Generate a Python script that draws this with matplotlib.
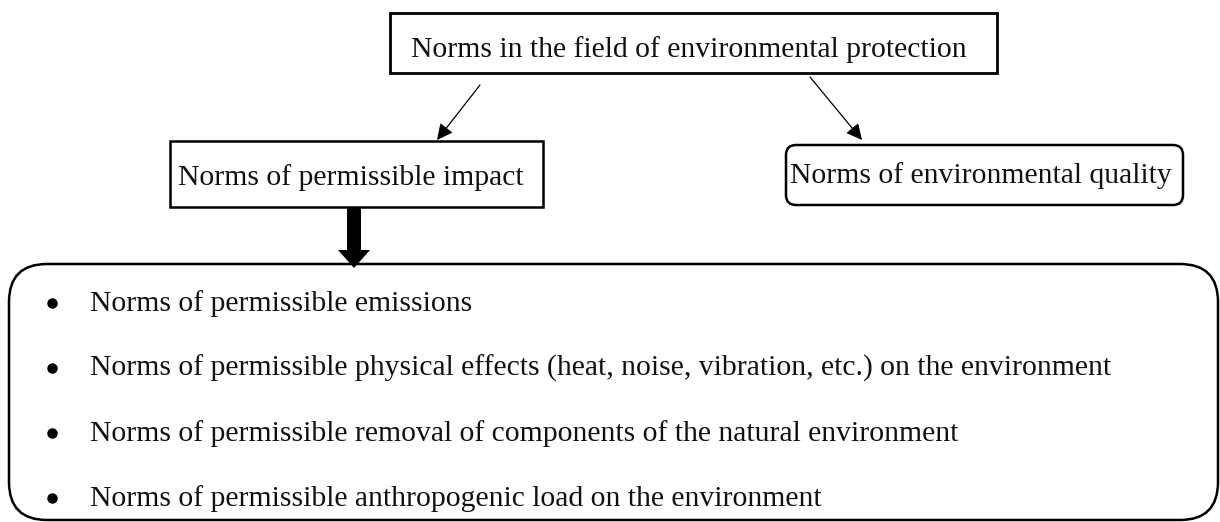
import matplotlib.pyplot as plt
from matplotlib.patches import Rectangle, FancyBboxPatch, FancyArrow

# texts of the diagram
top_label = "Norms in the field of environmental protection"
left_label = "Norms of permissible impact"
right_label = "Norms of environmental quality"
bullet_items = [
    "Norms of permissible emissions",
    "Norms of permissible physical effects (heat, noise, vibration, etc.) on the environment",
    "Norms of permissible removal of components of the natural environment",
    "Norms of permissible anthropogenic load on the environment",
]

# layout, in pixels of the 1220x522 canvas (y grows downward)
W, H = 1220, 522
FS = 21.3
FONT = "Liberation Serif"
INK = "#111111"

fig = plt.figure(figsize=(W / 100, H / 100), dpi=100)
ax = fig.add_axes([0, 0, 1, 1])
ax.set_xlim(0, W)
ax.set_ylim(H, 0)
ax.axis("off")

# top box
ax.add_patch(Rectangle((390, 13), 607, 60, fill=False, lw=2.0, ec="black"))
ax.text(411, 57, top_label, fontsize=FS, family=FONT, color=INK, va="baseline")

# thin arrows from the top box
arrow_kw = dict(arrowstyle="-|>", lw=0.9, color="black", mutation_scale=24,
                shrinkA=0, shrinkB=0)
ax.annotate("", xy=(437, 140), xytext=(480, 85), arrowprops=arrow_kw)
ax.annotate("", xy=(862, 140), xytext=(810, 77), arrowprops=arrow_kw)

# left box (square corners)
ax.add_patch(Rectangle((170, 141), 373, 66, fill=False, lw=1.8, ec="black"))
ax.text(178, 185, left_label, fontsize=FS, family=FONT, color=INK, va="baseline")

# right box (rounded corners)
ax.add_patch(FancyBboxPatch((786, 145), 397, 60,
                            boxstyle="round,pad=0,rounding_size=10",
                            fill=False, lw=1.8, ec="black"))
ax.text(790, 183, right_label, fontsize=FS, family=FONT, color=INK, va="baseline")

# thick arrow down to the list
ax.add_patch(FancyArrow(354, 207, 0, 61, width=14, head_width=32, head_length=18,
                        length_includes_head=True, fc="black", ec="black", lw=0))

# big rounded box with the list
ax.add_patch(FancyBboxPatch((9, 264), 1209, 256,
                            boxstyle="round,pad=0,rounding_size=38",
                            fill=False, lw=1.8, ec="black"))

baselines = [311, 376, 441, 506]
for yb, item in zip(baselines, bullet_items):
    ax.plot(52, yb - 8, "o", ms=6.5, color="black")
    ax.text(90, yb, item, fontsize=FS, family=FONT, color=INK, va="baseline")

fig.savefig("out.png", dpi=100)
